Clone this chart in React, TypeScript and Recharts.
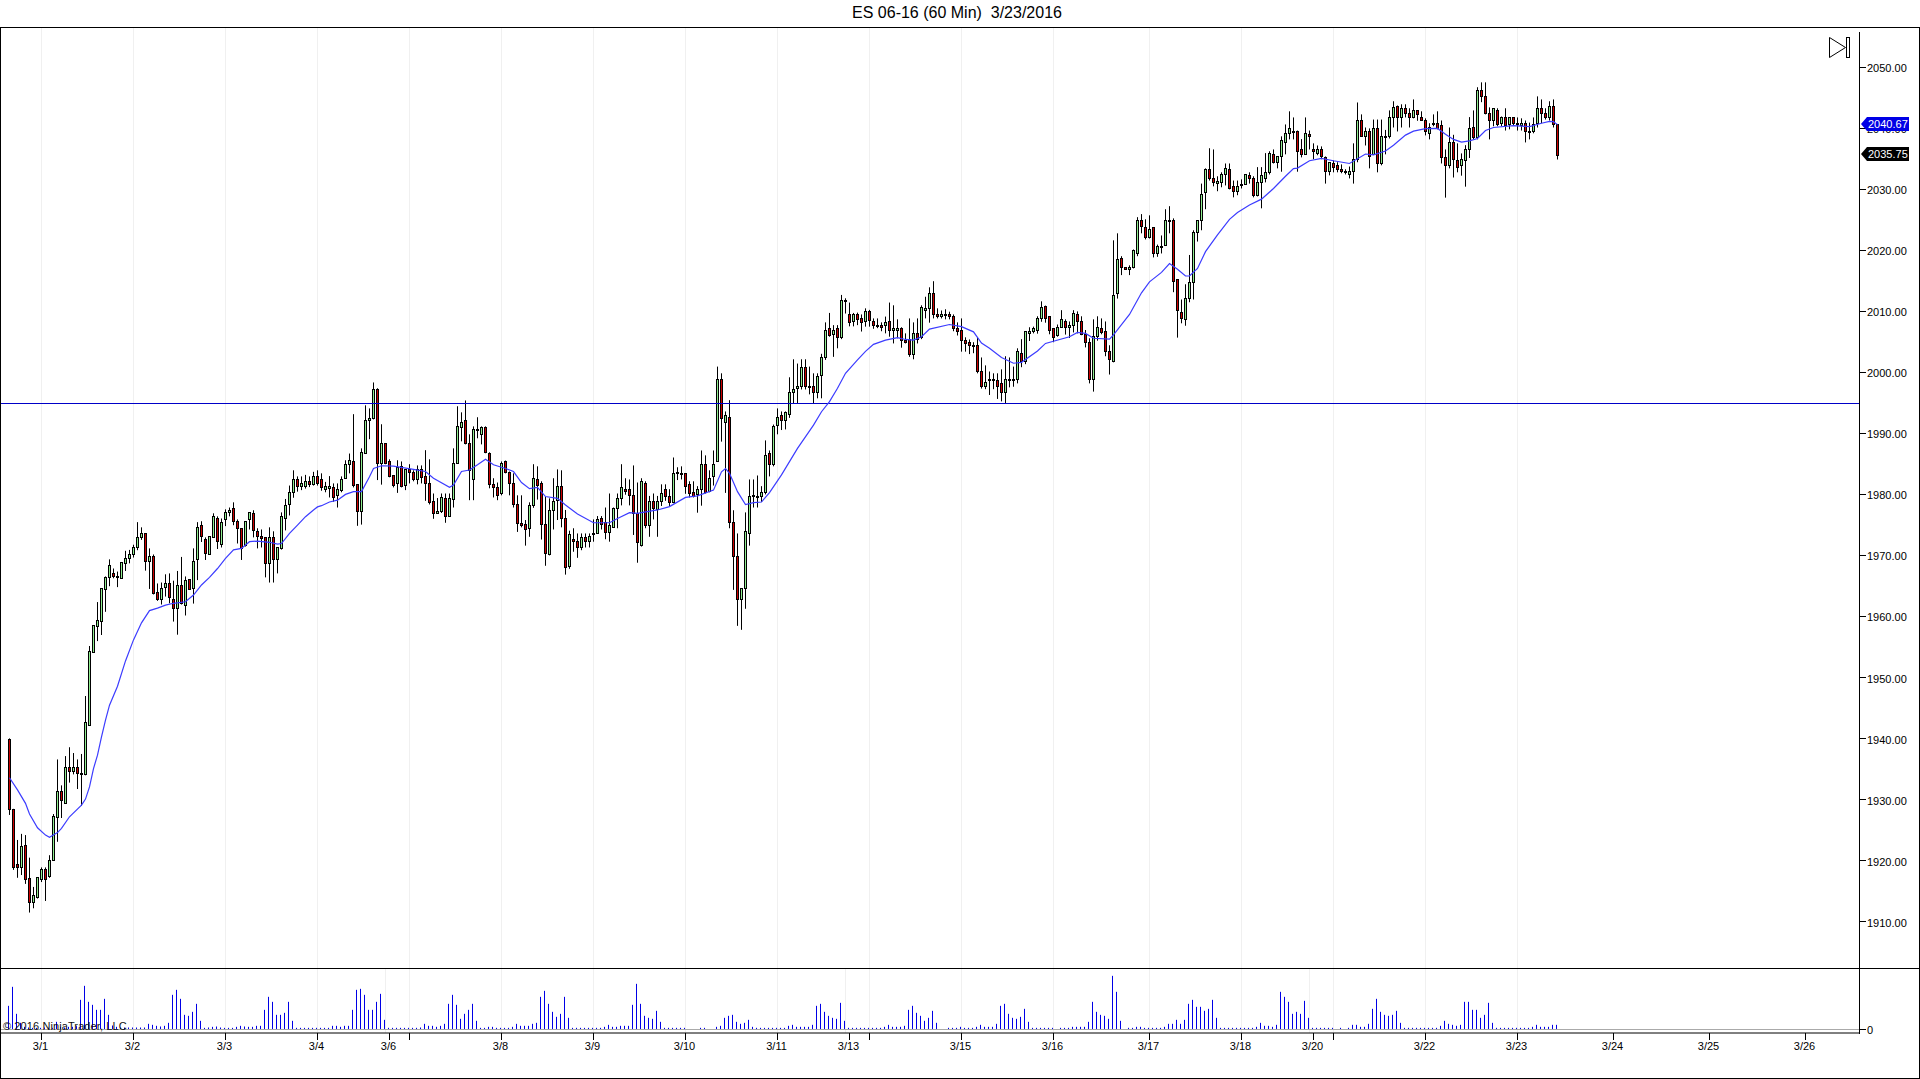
import React from 'react';
import { Bar, CartesianGrid, ComposedChart, Line, ReferenceLine, XAxis, YAxis } from 'recharts';

const title = 'ES 06-16 (60 Min)  3/23/2016';

// Hourly candles
const opens = [
  1939.9,1928.4,1919.5,1918.9,1922.5,1917.1,1913.3,1914.1,1917,1918.6,
  1917.5,1920.05,1927.1,1931.5,1929.5,1935.3,1934.65,1935.3,1934.3,1934.2,
  1942.25,1954.2,1958.5,1959.35,1964.5,1966.45,1967.1,1966.6,1966.4,1968.75,
  1969.7,1970.2,1971.4,1973.1,1973.65,1969.2,1969.9,1964,1962.85,1964.9,
  1965.45,1962.85,1961.4,1965.15,1961.85,1966.1,1964.65,1969.4,1975,1972.7,
  1970.3,1973,1976.1,1972,1976,1977.1,1977.75,1975.65,1974.5,1971.7,
  1976,1976.95,1974,1973.2,1973,1968.75,1973,1969.4,1971.2,1976.1,
  1978.4,1980.5,1982.5,1981.5,1981.5,1982.25,1981.75,1983,1982.5,1980.9,
  1981.05,1981.2,1979.9,1980.7,1982.7,1985,1985.45,1981.7,1977.4,1986.8,
  1992.2,1992.5,1997.25,1985.15,1988.4,1985.45,1983.15,1981.95,1984.65,1981.65,
  1984.15,1983.75,1982.5,1984.15,1983,1982,1978.9,1977,1977.4,1979.4,
  1976.55,1979.25,1985.15,1991.05,1992.2,1988.4,1982.5,1990.7,1989.9,1991.05,
  1986.8,1981.7,1981.2,1980.2,1985.45,1983.65,1982,1978.4,1975.4,1975.15,
  1974.5,1978.25,1982.5,1982,1975.15,1970.2,1977.45,1979.1,1981.4,1976.1,
  1968.35,1972.7,1972.35,1971.35,1973,1972.35,1973.5,1973.65,1976.1,1975.45,
  1973.9,1974.65,1977.75,1979.4,1980.9,1980.9,1979.9,1976.95,1971.7,1982,
  1975,1978.9,1977.7,1978.9,1980.9,1979.75,1978.85,1983.65,1983.5,1983.5,
  1981.7,1980.4,1980.15,1980.9,1985,1980.55,1983,1985.45,1998.9,1992,
  1992.7,1975.45,1969.9,1962.85,1964.65,1973.65,1979.9,1979.75,1979.75,1980.4,
  1986.8,1985,1991.5,1993,1992.2,1993.15,1996.8,1997.45,1997.75,2001,
  1997.9,1997.75,1996.8,1999.7,2002.65,2007.3,2006.4,2007.3,2005.8,2012,
  2009.55,2008.4,2009.55,2008.9,2008.4,2010.05,2008.4,2007.8,2007.75,2007.75,
  2008.4,2006.95,2006.95,2007.3,2005.3,2005.45,2003,2006.45,2005.8,2010.2,
  2010.55,2013,2009.7,2009.25,2009.55,2009.7,2009.25,2007.3,2006.95,2005.3,
  2005,2004.5,2004.5,2000.2,1997.9,1998.9,1998.9,1998.75,1998.25,1996.9,
  1998.75,1998.75,1998.9,2003.2,2002,2006.45,2006.8,2006.95,2008.9,2011,
  2009.25,2007.3,2006.25,2007.45,2008.4,2007.45,2007.9,2009.55,2008.4,2006.3,
  2005,1998.9,2006,2007.3,2006.8,2003.5,2002,2013,2018.75,2017.3,
  2017,2017.3,2019.7,2025,2023.85,2022.2,2023.85,2019.55,2020.7,2021,
  2025,2025,2015.3,2010,2008.75,2012.2,2014.8,2023,2025,2029.6,
  2033.35,2031.9,2031.05,2031.2,2032.5,2033.35,2030.55,2029.75,2030.7,2031,
  2032.35,2032,2029.1,2031.2,2032,2032.85,2035.8,2034.5,2035.5,2037.75,
  2039.25,2039.7,2039.7,2036.6,2035.8,2039.1,2036.6,2036,2036.6,2035.3,
  2033,2034.3,2034,2033.35,2033,2032.5,2033,2035,2041.35,2038.75,
  2039.55,2035.8,2040.05,2034.3,2038.75,2038.75,2041.85,2043.8,2041.85,2043.35,
  2042.5,2042,2043,2042,2041.35,2039.25,2041,2041,2040.55,2035.3,
  2034,2037.75,2034.8,2034,2034.8,2036.6,2040.2,2038.6,2046.3,2045.3,
  2042.5,2041.35,2043,2041,2042,2040.7,2041.85,2041,2040.55,2041,
  2039.55,2039.55,2041,2043.35,2042.5,2041.85,2043.8,2040.7,
];

const highs = [
  1940.05,1928.5,1923.4,1924.4,1924.2,1920.5,1915.7,1917.25,1918.9,1918.9,
  1920.9,1927.65,1936.6,1932.35,1937.15,1938.6,1937.65,1936.6,1937.5,1947,
  1955.2,1958.6,1962.4,1964.65,1966.6,1969.4,1967.9,1967.4,1968.9,1970.8,
  1970.95,1971.8,1975.5,1974.65,1973.65,1971.2,1970.2,1965.45,1965.6,1966.95,
  1967.1,1965.9,1967.5,1969.8,1966.6,1966.1,1971.2,1975.5,1975.65,1973,
  1973.2,1976.95,1976.45,1976.1,1977.6,1977.9,1978.75,1975.95,1974.5,1975.65,
  1977.1,1977.45,1974.5,1974.3,1973,1974.65,1974,1971.4,1977.1,1979.3,
  1981.5,1984,1983,1983,1983.25,1983,1983.75,1984,1983.5,1982.1,
  1983.05,1981.85,1981.85,1983,1985.65,1986.75,1993.2,1981.7,1987.6,1994.65,
  1994.15,1998.4,1997.45,1991.55,1988.4,1985.8,1983.15,1985.65,1985.45,1984.15,
  1985,1984,1984.8,1984.8,1987.3,1985.8,1980.2,1979.45,1980.2,1980.2,
  1980.2,1987.6,1994.5,1993.5,1995.45,1989.9,1991.2,1992.7,1991.2,1991.2,
  1986.95,1982.7,1982,1985.45,1985.6,1983.8,1983.5,1979.9,1979.9,1975.85,
  1978.75,1985,1984.65,1982.2,1979.65,1979.4,1982.7,1984.15,1984,1977.5,
  1974.1,1974.5,1973.65,1973.65,1973.65,1973.65,1975.95,1976.5,1976.5,1977.9,
  1980.2,1977.9,1980.2,1985,1982.7,1982.5,1984.8,1982,1982.7,1982.2,
  1979.8,1980.2,1979.8,1981.7,1981.7,1980.9,1986.1,1984.5,1984.65,1983.5,
  1982.2,1982.2,1981.4,1987.25,1986.45,1984,1987.25,2001,1999.9,1993.65,
  1995.5,1977.45,1973.65,1964.65,1977.1,1982.5,1982.5,1983.15,1981.4,1988.9,
  1987.25,1991.5,1994.15,1993.65,1993.65,1999.25,2002.2,2001.5,2002.2,2002.2,
  2001,1999.9,1999.9,2003.1,2008.25,2009.8,2007.8,2007.8,2012.75,2012.2,
  2011.5,2009.8,2009.85,2009.55,2010.55,2010.3,2008.9,2008.9,2008.25,2009.2,
  2011.5,2011.05,2008.75,2007.45,2006.45,2008.9,2008.25,2008.9,2011.05,2012.45,
  2014,2015,2010.55,2010.2,2010.4,2010,2009.55,2008.25,2008.9,2005.8,
  2005.45,2005,2005.8,2002.5,2001.2,2000.2,1999.9,1999.9,2000.55,2002.7,
  2002.5,2001,2004,2005.5,2006.8,2007.45,2007.55,2009.25,2011.7,2011,
  2009.25,2007.3,2007.9,2010.25,2008.75,2008.4,2010.25,2010.05,2009.25,2007,
  2005.65,2008.75,2009.25,2008.9,2008.4,2004.5,2021.7,2022.85,2019.1,2017.3,
  2017.6,2020.2,2025.5,2026,2025.15,2025.8,2023.85,2021,2022.5,2026.8,
  2027.3,2025.3,2015.3,2012,2014.5,2019.3,2023.35,2025,2031,2033.5,
  2036.8,2036.6,2032.2,2032.85,2034.3,2034.3,2031.5,2031.5,2031.7,2032.5,
  2032.85,2032.2,2033.7,2033.7,2036,2036.3,2036.6,2035.5,2038.75,2040.7,
  2042.85,2041.85,2039.7,2038.3,2041.85,2039.7,2037.6,2037.25,2037.1,2035.45,
  2034.5,2034.8,2034.5,2034.15,2033.35,2033.8,2037.6,2044.3,2042.35,2040.2,
  2040.05,2041.5,2041.5,2041.5,2039.8,2043,2044.5,2043.8,2044,2044,
  2043.35,2044.8,2043,2042.85,2041.7,2040.9,2042.35,2042.85,2041.35,2036.6,
  2040.2,2039,2037.6,2035.95,2037.3,2041.9,2043,2046.8,2047.6,2047.6,
  2043.5,2043.35,2043.35,2042,2043.35,2041.85,2041.85,2041.85,2041.7,2041.35,
  2041,2041.85,2045.3,2044.8,2043.35,2044.5,2044.8,2040.7,
];

const lows = [
  1927.5,1918.5,1917.2,1917.65,1916.2,1911.5,1912.2,1913.8,1916.5,1913.4,
  1917.2,1920,1923.1,1927,1929.35,1932.8,1934.15,1931.75,1929,1934,
  1942.1,1954.1,1956,1957,1960.8,1965,1966.3,1964.85,1966.3,1967.5,
  1968.75,1969.7,1970.9,1972.6,1967.55,1964.55,1963.65,1962.6,1962,1963.3,
  1962.2,1959.2,1957.05,1962,1960.2,1964.5,1962.15,1966,1972.25,1969.3,
  1970.3,1973,1971.1,1971.35,1974.85,1976.45,1975,1972,1969.3,1971.5,
  1974.3,1973,1971.2,1971.35,1966.45,1965.6,1965.6,1967.1,1971,1974.15,
  1976.6,1979.5,1980.5,1980.75,1981,1981.25,1981.5,1981.5,1980.65,1980.4,
  1979.55,1978.85,1977.9,1980.4,1982.7,1983.5,1981.2,1974.9,1975.1,1986.8,
  1989.1,1992.35,1982.4,1981.65,1985,1982.85,1981.2,1980.3,1981.2,1980.75,
  1981.85,1982.2,1981.7,1981.85,1979,1978.4,1976.05,1977,1977,1975.4,
  1976.55,1977.9,1985.15,1988.75,1988.25,1979.1,1979.1,1989.25,1988.25,1986.8,
  1981.05,1979.55,1979.1,1979.9,1983.5,1979.9,1977.9,1973.9,1974.65,1971.65,
  1973.1,1977.85,1979.2,1972.65,1968.35,1970.05,1974.3,1975.85,1974.65,1966.9,
  1967.85,1970.65,1969.65,1970.9,1971.35,1971.35,1972.3,1973.65,1974.3,1972.7,
  1972.3,1974.65,1974.5,1978.25,1980,1978.25,1973.4,1968.85,1971.5,1974.5,
  1973.1,1975.95,1973.1,1978.15,1979,1978.15,1978.6,1982.4,1982.5,1980.15,
  1979.55,1979.55,1977.05,1978.2,1980.2,1980.4,1981.5,1985.45,1988.7,1980.3,
  1974.5,1964.4,1958.5,1957.85,1961.3,1971.65,1977.9,1977.9,1978.8,1980.05,
  1983,1984.65,1989.9,1990.6,1990.7,1992.6,1995,1995,1997.25,1997.25,
  1996.45,1995,1995.8,1995.8,2002.1,2005.9,2002.6,2004,2005.5,2009.7,
  2007.6,2007.6,2007.8,2006.75,2007.55,2007.55,2007.2,2007.3,2006.8,2006.45,
  2005.9,2004.8,2005.65,2004.1,2004.8,2002.6,2002.2,2004.8,2005.5,2008.9,
  2008.2,2008.9,2008.9,2008.9,2008.75,2008.75,2006.8,2006.1,2003.45,2003.45,
  2003.05,2003.2,1999.9,1997.4,1997.3,1996.35,1997.3,1995.7,1995.3,1995,
  1997.6,1997.7,1998.25,2000.9,2001.4,2005.2,2006.45,2006.4,2008.35,2008.2,
  2006.3,2005,2005.9,2007.45,2006.25,2005.7,2006.6,2006.45,2006.15,2004.15,
  1998.25,1996.9,2005.25,2006.3,2002.7,1999.7,2001.7,2012.15,2016,2016.9,
  2016,2017.1,2019.1,2022.85,2021.85,2022,2018.9,2019,2019.55,2021,
  2022.85,2013.2,2005.75,2008.1,2007.7,2011.55,2012,2021.5,2023.35,2026.8,
  2031.5,2030.55,2029.75,2030.4,2030.7,2030.05,2028.75,2029.1,2030.2,2031,
  2031,2028.75,2028.9,2026.95,2031.2,2032.5,2034.3,2033.5,2032.95,2035.8,
  2038.25,2038.25,2032.95,2035.3,2035.8,2036.6,2035,2035.65,2035,2031,
  2032.35,2032.85,2032.85,2032.7,2032.5,2031.85,2031,2034.5,2038.75,2037.25,
  2033.5,2035.8,2032.85,2034,2035.8,2038.4,2040.2,2039.55,2040.2,2041.85,
  2040.2,2041.7,2041.3,2041.35,2038.9,2038.25,2040.4,2039.9,2034.3,2028.7,
  2033.5,2032,2032.85,2032.3,2030.5,2035.2,2038.25,2038.25,2044.35,2042.35,
  2038.25,2040.4,2040.4,2040.4,2039.7,2039.9,2040.55,2039.7,2039.7,2037.75,
  2038.25,2039.25,2040.2,2040.9,2041.5,2041.35,2040.2,2034.95,
];

const closes = [
  1928.4,1919,1919,1922.4,1917,1913.3,1914.3,1917.25,1918.6,1917,
  1920.05,1927.25,1931.5,1929.9,1935.3,1934.65,1935.3,1934.3,1934.15,1942.7,
  1954.4,1958.6,1959.4,1964.65,1966.45,1968.4,1966.6,1966.6,1968.9,1969.7,
  1970.2,1971.4,1973,1973.65,1969.2,1969.9,1963.9,1962.85,1964.65,1965.45,
  1963.2,1961.4,1965.15,1962.2,1965.95,1964.5,1969.2,1974.65,1973.2,1970.4,
  1973.2,1976.45,1972.35,1975.6,1977.1,1977.45,1975.65,1974.5,1971.2,1975.65,
  1977.1,1974.15,1973.2,1972.85,1968.75,1973,1969.4,1971.4,1976.45,1978.25,
  1980.5,1982.5,1981.5,1982,1982.25,1981.75,1983,1982,1981.2,1981.4,
  1981.4,1979.65,1980.9,1982.5,1985,1985.65,1981.65,1977.4,1986.95,1992.2,
  1992.5,1997.25,1985.15,1988.4,1985.15,1983.1,1981.65,1984.5,1981.4,1984.15,
  1983.65,1982.6,1984.15,1982.95,1982,1978.85,1977,1977.4,1979.7,1976.55,
  1979.4,1985.15,1991.2,1992,1988.4,1984,1990.7,1990.75,1991.05,1986.95,
  1981.7,1981.2,1979.9,1985.15,1983.65,1982,1978.4,1975.4,1975.1,1974.4,
  1978.25,1982.7,1981.65,1975.15,1970.4,1977.45,1978.9,1981.4,1976.1,1968.1,
  1973.5,1972.35,1971.35,1973.1,1972.35,1973.2,1973.65,1975.95,1975.15,1973.9,
  1975,1977.9,1979.4,1981.2,1980.65,1979.9,1976.95,1972.2,1982.2,1975,
  1978.9,1977.75,1978.9,1980.2,1979.75,1978.85,1983.5,1983.5,1983.5,1981.4,
  1980.2,1979.75,1980.9,1985,1980.4,1982.7,1985,1998.9,1992.5,1993,
  1975.45,1969.9,1962.85,1964.65,1974,1979.75,1979.75,1979.75,1980.4,1986.45,
  1985,1991.2,1992.7,1992.2,1993.5,1996.8,1997.25,1997.75,2001,1997.9,
  1997.75,1996.8,1999.4,2002.65,2006.95,2006.1,2006.95,2005.8,2012,2011.7,
  2008.25,2009.55,2008.75,2008.25,2010.05,2008.6,2007.9,2007.9,2007.45,2008.25,
  2006.95,2007.3,2007.3,2005.3,2005,2003,2006.45,2005.45,2010.7,2010.55,
  2013,2009.55,2009.25,2009.55,2009.5,2009.25,2007.3,2006.8,2005.3,2004.8,
  2004.5,2004.45,2000.2,1997.9,1998.4,1998.75,1998.85,1997.9,1996.8,1998.9,
  1998.9,1998.9,2003.5,2001.85,2006.8,2006.8,2007.3,2008.9,2010.7,2008.9,
  2006.95,2005.9,2007.45,2008.75,2007.45,2007.9,2009.75,2008.4,2006.3,2005,
  1998.9,2006,2007.45,2006.75,2003.5,2002.2,2012.7,2018.6,2017.3,2017,
  2017.3,2020.05,2025,2024,2022.2,2023.5,2019.55,2020.7,2020.65,2025,
  2024.95,2015,2010.2,2008.9,2012.2,2014.8,2023,2025,2029.25,2033.35,
  2031.9,2031.2,2031.5,2032.5,2033.5,2030.2,2029.75,2030.55,2031,2032.5,
  2032,2029.1,2031.2,2032.35,2032.85,2036,2034.5,2035.5,2038.1,2039.25,
  2040.05,2039.65,2036.3,2035.8,2039.25,2038.75,2036.3,2036.6,2035.45,2033,
  2034.5,2033.8,2033.35,2033,2032.85,2033,2035,2041.35,2038.75,2039.7,
  2035.45,2040.05,2034.3,2038.75,2038.6,2041.85,2043.5,2041.85,2043.35,2042.5,
  2042,2043,2042.35,2041.5,2039.55,2040.2,2040.7,2040.05,2035.3,2034,
  2037.75,2035,2033.8,2035,2036.6,2040.05,2038.6,2046.3,2045.3,2042.5,
  2041.35,2043.35,2040.7,2042,2040.55,2041.85,2041,2040.7,2041,2039.55,
  2039.5,2040.7,2043.35,2042.5,2041.85,2043.8,2040.7,2035.75,
];

const volumes = [
  71,128,47,20,8,6,5,5,5,6,
  5,5,23,8,6,8,8,10,89,131,
  83,74,59,59,92,44,12,8,6,6,
  6,6,6,6,6,17,14,11,9,11,
  20,104,119,92,44,41,53,77,26,5,
  6,8,9,6,5,5,5,8,11,9,
  8,8,11,11,59,98,83,44,44,50,
  83,26,5,5,5,5,5,5,5,5,
  5,11,11,8,11,11,59,119,122,104,
  59,59,83,107,29,5,5,5,5,5,
  5,5,5,6,17,11,11,8,11,17,
  77,104,74,32,47,59,77,26,5,5,
  8,8,5,5,5,5,8,17,11,11,
  11,17,20,98,116,77,53,38,47,98,
  35,5,5,5,5,5,5,5,5,8,
  14,8,8,11,11,11,74,137,77,41,
  35,32,56,23,5,5,5,5,5,5,
  0,0,0,5,5,0,0,8,11,35,
  41,44,23,17,20,29,8,5,5,5,
  5,5,5,5,5,11,14,8,8,8,
  8,14,71,77,53,41,35,32,80,26,
  5,5,5,5,5,5,5,5,5,8,
  14,8,8,8,11,59,71,50,41,26,
  35,56,20,0,0,5,5,5,8,5,
  5,5,8,14,8,8,8,17,71,77,
  47,35,32,38,62,23,5,5,5,5,
  5,5,0,5,5,5,8,8,8,8,
  23,83,53,44,41,32,161,113,26,0,
  5,5,8,8,5,5,5,5,5,8,
  17,17,29,17,29,77,89,68,68,56,
  62,89,35,5,5,5,5,5,5,5,
  5,5,8,20,11,11,8,14,113,98,
  83,47,53,47,86,35,5,5,5,5,
  5,5,0,5,0,5,14,14,8,8,
  17,62,92,53,44,41,44,56,20,5,
  5,5,5,5,5,5,5,5,11,26,
  17,14,11,14,83,83,59,59,35,44,
  80,20,5,5,5,5,5,5,5,5,
  5,8,14,8,8,8,14,14,
];

// Moving average, read at the bars where it could be made out
const maBars = [
  0,2,4,5,7,9,10,12,13,15,18,19,20,21,22,23,24,25,27,29,31,33,35,37,39,41,44,46,48,50,52,54,56,58,60,62,65,67,68,70,72,74,76,77,
  78,80,82,84,86,88,90,91,93,96,101,104,106,110,111,113,115,117,119,121,124,126,128,130,132,134,137,139,142,146,150,152,155,157,
  158,162,165,169,172,176,178,179,180,182,184,186,188,190,193,197,201,203,205,207,209,212,214,216,219,222,224,226,228,230,235,238,
  241,243,245,248,251,253,257,259,265,267,269,271,275,276,280,283,285,288,290,292,294,295,297,299,302,305,307,310,313,316,319,
  321,322,325,328,331,335,339,341,344,346,349,351,354,357,359,361,363,365,367,369,371,376,380,383,385,386,387,
];
const maValues = [
  1933.6,1931.6,1929.4,1927.65,1925.4,1924.2,1923.85,1924.6,1925.3,1927.2,1929.1,1930.1,1932.1,1935.1,1937.3,1940.3,1943.05,1945.5,1948.6,1952.75,1956.2,1959,1961,1961.4,1961.9,1962.2,1962.45,1963.55,1965.2,1966.45,1967.9,1969.55,1970.95,1971.2,1972.3,1972.4,1972.2,1971.9,1972,1973.65,1975,1976.4,1977.5,1978,
  1978.2,1978.8,1979.1,1980.05,1980.5,1980.5,1982.95,1984.3,1984.75,1984.7,1984.15,1983.8,1982.7,1981.2,1981.6,1983.8,1984.05,1984.9,1985.8,1984.9,1984.3,1983.8,1982,1981,1981.2,1979.7,1979.4,1978.3,1976.85,1975.4,1975.4,1976.1,1977.05,1976.95,
  1977.05,1977.5,1978.05,1979.55,1979.8,1980.75,1983.75,1984.3,1983.5,1980.5,1978.4,1978.7,1978.8,1980.35,1983.25,1987.6,1991.4,1993.6,1995.25,1997.45,1999.9,2002.1,2003.5,2004.65,2005.35,2005.75,2005.45,2005.35,2005.9,2007.15,2007.9,2007.55,
  2006.7,2004.85,2004,2002.5,2001.55,2001.7,2003.55,2004.8,2005.9,2006.6,2006.45,2005.65,2005.5,2006.2,2009.55,2013.1,2014.9,2016.45,2017.9,2016.95,2015.85,2015.85,2017.1,2019.85,2022.6,2025.15,2026.25,2027.5,2028.45,2030.2,2032.2,
  2033.45,2033.55,2034.75,2035.15,2034.75,2034.3,2035.85,2035.7,2036.35,2037.3,2038.95,2039.6,2040,2040.05,2039.1,2038.25,2037.8,2038,2038.4,2039.7,2040.2,2040.5,2040.35,2040.9,2041.2,2041.15,2040.67,
];

const levelLine = 1994.95;
const lastMa = 2040.67;
const lastPrice = 2035.75;
const priceTicks = [1910, 1920, 1930, 1940, 1950, 1960, 1970, 1980, 1990, 2000, 2010, 2020, 2030, 2040, 2050, lastMa, lastPrice];

const dayBars = [8, 31, 54, 77, 95, 100, 123, 146, 169, 192, 210, 215, 238, 261, 285, 308, 326, 331, 354, 377, 401, 425, 449];
const dayLabels = ['3/1', '3/2', '3/3', '3/4', '3/6', '', '3/8', '3/9', '3/10', '3/11', '3/13', '', '3/15', '3/16', '3/17', '3/18', '3/20', '', '3/22', '3/23', '3/24', '3/25', '3/26'];
const gridBars = [8, 31, 54, 77, 94, 100, 123, 146, 169, 192, 209, 215, 238, 261, 285, 308, 325, 331, 354, 377];

const rows = opens.map((open, i) => {
  const maAt = maBars.indexOf(i);
  return {
    i,
    open,
    close: closes[i],
    range: [lows[i], highs[i]],
    volume: volumes[i],
    ma: maAt >= 0 ? maValues[maAt] : null,
  };
});

const xDomain: [number, number] = [-2.375, 462.375];
const font = '"Liberation Sans", Arial, sans-serif';

// Wick and body of one candle, placed from the rectangle that Bar works out for low..high
const Candle = (props: any) => {
  const { x, y, width, height, payload } = props;
  const [low, high] = payload.range;
  const perPoint = high > low ? height / (high - low) : 0;
  const cx = Math.floor(x + width / 2) + 0.5;
  const top = Math.round(y + (high - Math.max(payload.open, payload.close)) * perPoint) + 0.5;
  const bottom = Math.round(y + (high - Math.min(payload.open, payload.close)) * perPoint) + 0.5;
  const up = payload.close >= payload.open;
  return (
    <g>
      <line x1={cx} x2={cx} y1={y} y2={y + height} stroke="#000" strokeWidth={1} />
      <rect x={cx - 1} y={top} width={2} height={Math.max(bottom - top, 1)} fill={up ? '#90ee90' : '#cc0000'} stroke="#000" strokeWidth={1} />
    </g>
  );
};

// One pixel column per volume bar, otherwise they smear over two columns
const VolumeBar = (props: any) => {
  const { x, y, width, height } = props;
  if (!height) return null;
  return <rect x={Math.floor(x + width / 2 - 0.01)} y={y} width={1} height={height} fill="#0000e6" />;
};

const PriceTick = (props: any) => {
  const { x, y, payload } = props;
  const value = payload.value;
  const label = value.toFixed(2);
  const rowY = Math.floor(y) + 0.5;
  if (value === lastMa || value === lastPrice) {
    const fill = value === lastMa ? '#0000e6' : '#000';
    const mid = rowY - 0.5;
    return (
      <g>
        <path d={`M${x + 2} ${mid} L${x + 8} ${mid - 7} H${x + 50} V${mid + 7} H${x + 8} Z`} fill={fill} />
        <text x={x + 9} y={mid + 4} fontSize={11} fontFamily={font} fill="#fff">{label}</text>
      </g>
    );
  }
  // the printed labels drift about a pixel lower towards the bottom of the axis
  const textY = Math.round(y + (2050 - value) * 0.008) + 4;
  return (
    <g>
      <line x1={x} x2={x + 7} y1={rowY} y2={rowY} stroke="#000" />
      <text x={x + 8} y={textY} fontSize={11} fontFamily={font} fill="#000">{label}</text>
    </g>
  );
};

const VolumeTick = (props: any) => {
  const { x, y, payload } = props;
  const rowY = Math.floor(y) + 0.5;
  return (
    <g>
      <line x1={x} x2={x + 7} y1={rowY} y2={rowY} stroke="#000" />
      <text x={x + 8} y={rowY + 4} fontSize={11} fontFamily={font} fill="#000">{payload.value}</text>
    </g>
  );
};

const frameLine = (left: number, top: number, width: number, height: number) => (
  <div style={{ position: 'absolute', left, top, width, height, background: '#000' }} />
);

export default function App() {
  return (
    <div style={{ position: 'absolute', left: 0, top: 0, width: 1920, height: 1079, background: '#fff', overflow: 'hidden', fontFamily: font }}>
      <div style={{ position: 'absolute', left: 0, top: 4, width: 1914, textAlign: 'center', fontSize: 16, whiteSpace: 'pre', color: '#000' }}>
        {title}
      </div>

      <div style={{ position: 'absolute', left: 0, top: 28 }}>
        <ComposedChart width={1920} height={940} data={rows} margin={{ top: 0, right: 0, bottom: 0, left: 0 }}>
          <CartesianGrid horizontal={false} verticalValues={gridBars} stroke="#f0f0f0" />
          <XAxis dataKey="i" type="number" domain={xDomain} hide allowDataOverflow />
          <YAxis
            orientation="right"
            width={61}
            domain={[1902.41, 2056.51]}
            ticks={priceTicks}
            interval={0}
            allowDataOverflow
            axisLine={false}
            tickLine={false}
            tickSize={0}
            tickMargin={0}
            tick={<PriceTick />}
          />
          <ReferenceLine y={levelLine} stroke="#0000c8" strokeWidth={1} shapeRendering="crispEdges" />
          <Line dataKey="ma" stroke="#3c3cff" strokeWidth={1.2} dot={false} connectNulls isAnimationActive={false} />
          <Bar dataKey="range" barSize={3} shape={<Candle />} isAnimationActive={false} />
        </ComposedChart>
      </div>

      <div style={{ position: 'absolute', left: 0, top: 968 }}>
        <ComposedChart width={1920} height={110} data={rows} margin={{ top: 0, right: 0, bottom: 0, left: 0 }}>
          <CartesianGrid horizontal={false} verticalValues={gridBars} stroke="#f0f0f0" />
          <XAxis
            dataKey="i"
            type="number"
            domain={xDomain}
            allowDataOverflow
            height={45}
            ticks={dayBars}
            interval={0}
            tickFormatter={(v: number) => dayLabels[dayBars.indexOf(v)]}
            tick={{ fontSize: 11, fill: '#000', fontFamily: font, dx: -1 }}
            tickSize={7}
            tickMargin={2}
            tickLine={{ stroke: '#000' }}
            axisLine={{ stroke: '#000' }}
          />
          <YAxis
            orientation="right"
            width={61}
            domain={[-10.5, 184.5]}
            ticks={[0]}
            interval={0}
            allowDataOverflow
            axisLine={false}
            tickLine={false}
            tickSize={0}
            tickMargin={0}
            tick={<VolumeTick />}
          />
          <ReferenceLine y={0} stroke="#aaaaaa" strokeWidth={1} shapeRendering="crispEdges" />
          <Bar dataKey="volume" barSize={1} shape={<VolumeBar />} isAnimationActive={false} />
        </ComposedChart>
      </div>

      <div style={{ position: 'absolute', left: 3, top: 1020, fontSize: 11, lineHeight: '13px', letterSpacing: 0.1, color: '#111', whiteSpace: 'pre' }}>
        © 2016 NinjaTrader, LLC
      </div>

      {frameLine(0, 27, 1920, 1)}
      {frameLine(0, 968, 1920, 1)}
      {frameLine(0, 1078, 1920, 1)}
      {frameLine(0, 27, 1, 1052)}
      {frameLine(1919, 27, 1, 1052)}
      {frameLine(1859, 32, 1, 1002)}

      <svg style={{ position: 'absolute', left: 1825, top: 33 }} width={30} height={28}>
        <path d="M4.5 4.5 L20.5 14.5 L4.5 24.5 Z" fill="none" stroke="#000" />
        <rect x={21.5} y={4.5} width={3} height={20} fill="none" stroke="#000" />
      </svg>
    </div>
  );
}
